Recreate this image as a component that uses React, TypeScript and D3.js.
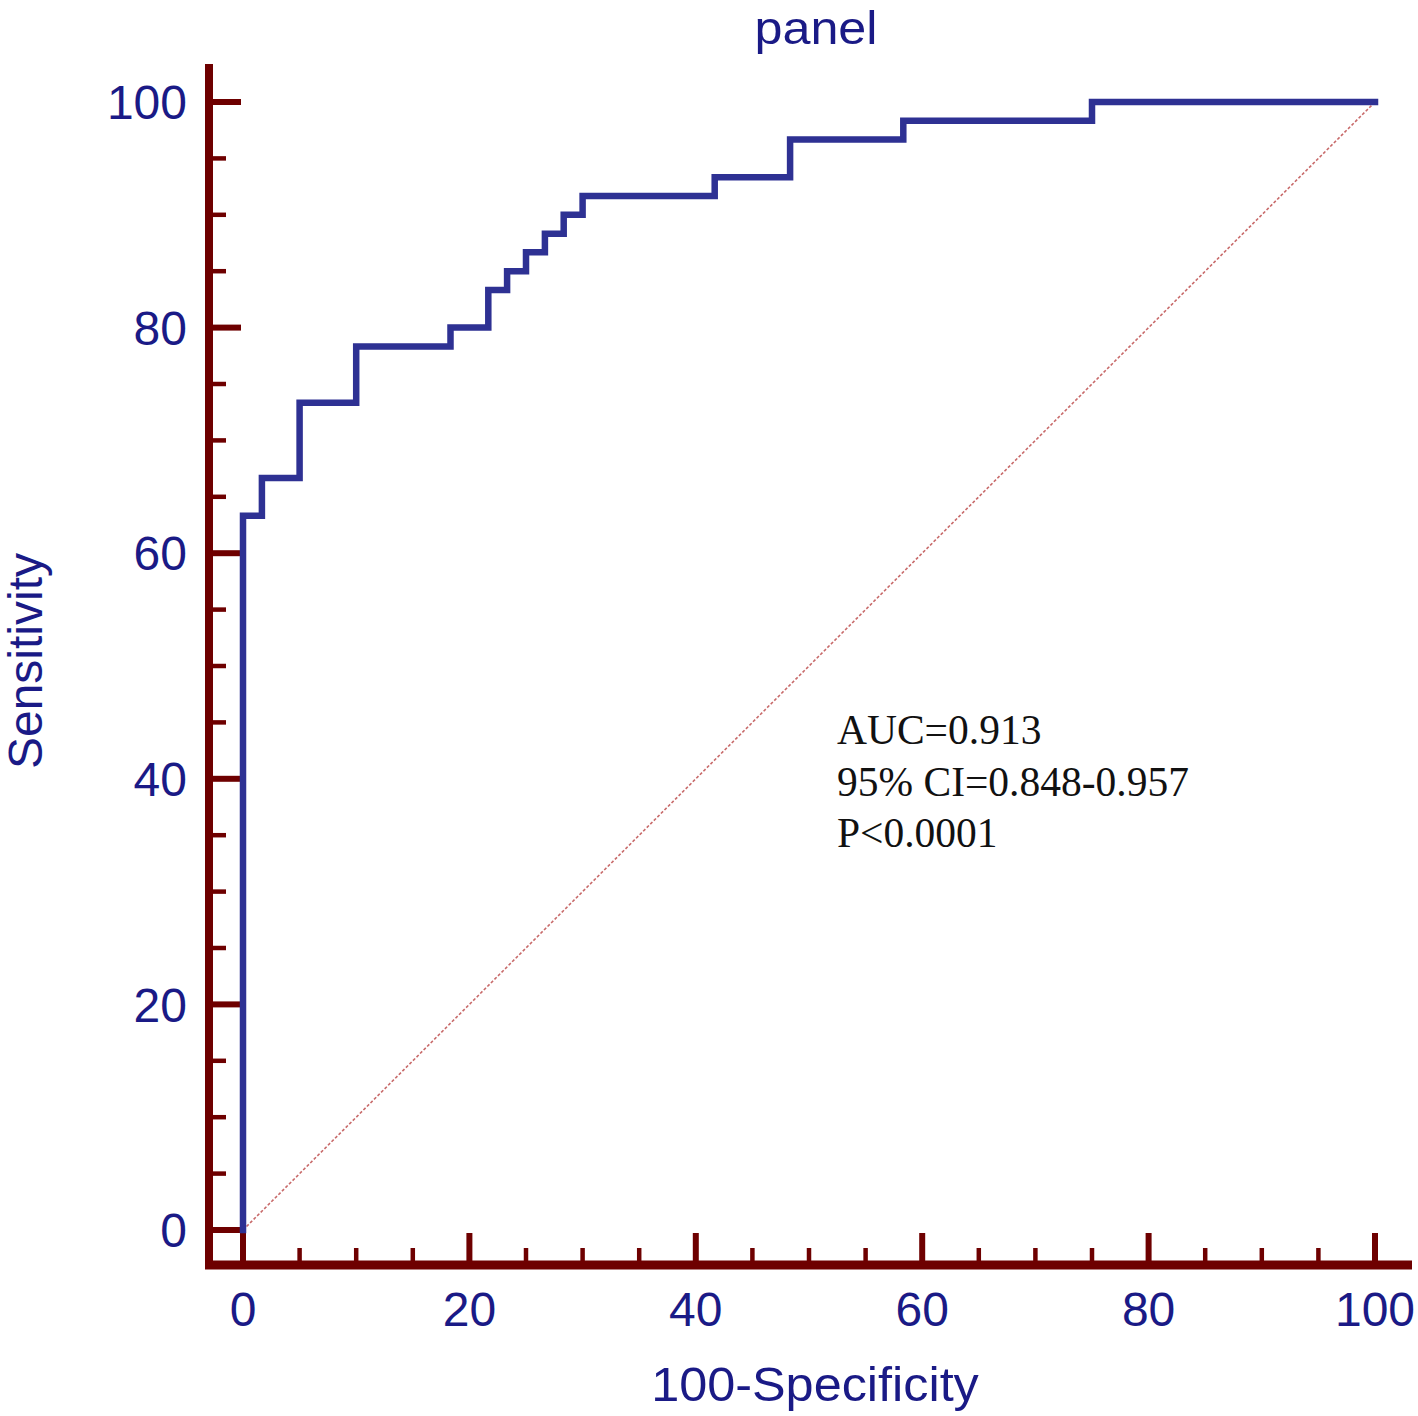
import React from "react";
import * as d3 from "d3";

const fpr = [0, 0, 1.67, 5, 10, 18.33, 21.67, 23.33, 25, 26.67, 28.33, 30, 41.67, 48.33, 58.33, 75, 100];
const tpr = [0, 63.33, 66.67, 73.33, 78.33, 80, 83.33, 85, 86.67, 88.33, 90, 91.67, 93.33, 96.67, 98.33, 100, 100];
const majorTicks = [0, 20, 40, 60, 80, 100];
const minorTicks = d3.range(5, 100, 5).filter((v) => v % 20 !== 0);
const annotation = ["AUC=0.913", "95% CI=0.848-0.957", "P<0.0001"];
const title = "panel";
const xLabel = "100-Specificity";
const yLabel = "Sensitivity";

const W = 1418;
const H = 1416;
const AXIS = "#6e0000";
const NAVY = "#1a1a86";

export default function App() {
  const x = d3.scaleLinear().domain([0, 100]).range([243, 1375]);
  const y = d3.scaleLinear().domain([0, 100]).range([1230, 102]);
  const axisX = 209;
  const axisY = 1265;
  const pts = fpr.map((f, i) => [f, tpr[i]] as [number, number]);
  const line = d3
    .line<[number, number]>()
    .x((d) => x(d[0]))
    .y((d) => y(d[1]))
    .curve(d3.curveStepAfter);
  const font = "'Liberation Sans', Arial, sans-serif";
  return (
    <svg
      width={W}
      height={H}
      style={{ position: "absolute", left: 0, top: 0, background: "#fff" }}
    >
      <rect width={W} height={H} fill="#fff" />
      {/* title */}
      <text x={816} y={44} textAnchor="middle" fontFamily={font} fontSize={47} fill={NAVY}
        transform="translate(816,0) scale(1.07,1) translate(-816,0)">
        {title}
      </text>
      {/* diagonal */}
      <line
        x1={x(0)}
        y1={y(0)}
        x2={x(100)}
        y2={y(100)}
        stroke="#c86a6a"
        strokeWidth={1.6}
        strokeDasharray="3,2"
      />
      {/* axes */}
      <line x1={axisX} y1={64} x2={axisX} y2={axisY + 4} stroke={AXIS} strokeWidth={8} />
      <line x1={205} y1={axisY} x2={1412} y2={axisY} stroke={AXIS} strokeWidth={9} />
      {majorTicks.map((v) => (
        <g key={"ym" + v}>
          <line x1={axisX} x2={241} y1={y(v)} y2={y(v)} stroke={AXIS} strokeWidth={6} />
          <text
            x={187}
            y={y(v)}
            dy="0.36em"
            textAnchor="end"
            fontFamily={font}
            fontSize={48}
            fill={NAVY}
          >
            {v}
          </text>
        </g>
      ))}
      {minorTicks.map((v) => (
        <line key={"yn" + v} x1={axisX} x2={226} y1={y(v)} y2={y(v)} stroke={AXIS} strokeWidth={4.5} />
      ))}
      {majorTicks.map((v) => (
        <g key={"xm" + v}>
          <line x1={x(v)} x2={x(v)} y1={axisY} y2={1233} stroke={AXIS} strokeWidth={6} />
          <text
            x={x(v)}
            y={1326}
            textAnchor="middle"
            fontFamily={font}
            fontSize={48}
            fill={NAVY}
          >
            {v}
          </text>
        </g>
      ))}
      {minorTicks.map((v) => (
        <line key={"xn" + v} x1={x(v)} x2={x(v)} y1={axisY} y2={1248} stroke={AXIS} strokeWidth={4.5} />
      ))}
      {/* ROC curve */}
      <path d={line(pts) || ""} fill="none" stroke="#2e3193" strokeWidth={6.5} strokeLinejoin="miter" strokeLinecap="square" />
      {/* axis labels */}
      <text x={815} y={1401} textAnchor="middle" fontFamily={font} fontSize={48} fill={NAVY}
        transform="translate(815,0) scale(1.05,1) translate(-815,0)">
        {xLabel}
      </text>
      <text
        transform={`translate(42,661) rotate(-90)`}
        textAnchor="middle"
        fontFamily={font}
        fontSize={48}
        fill={NAVY}
      >
        {yLabel}
      </text>
      {/* annotation */}
      {annotation.map((t, i) => (
        <text
          key={t}
          x={837}
          y={744 + i * 51.5}
          fontFamily="'Liberation Serif', 'Times New Roman', serif"
          fontSize={41.5}
          fill="#111"
        >
          {t}
        </text>
      ))}
    </svg>
  );
}
